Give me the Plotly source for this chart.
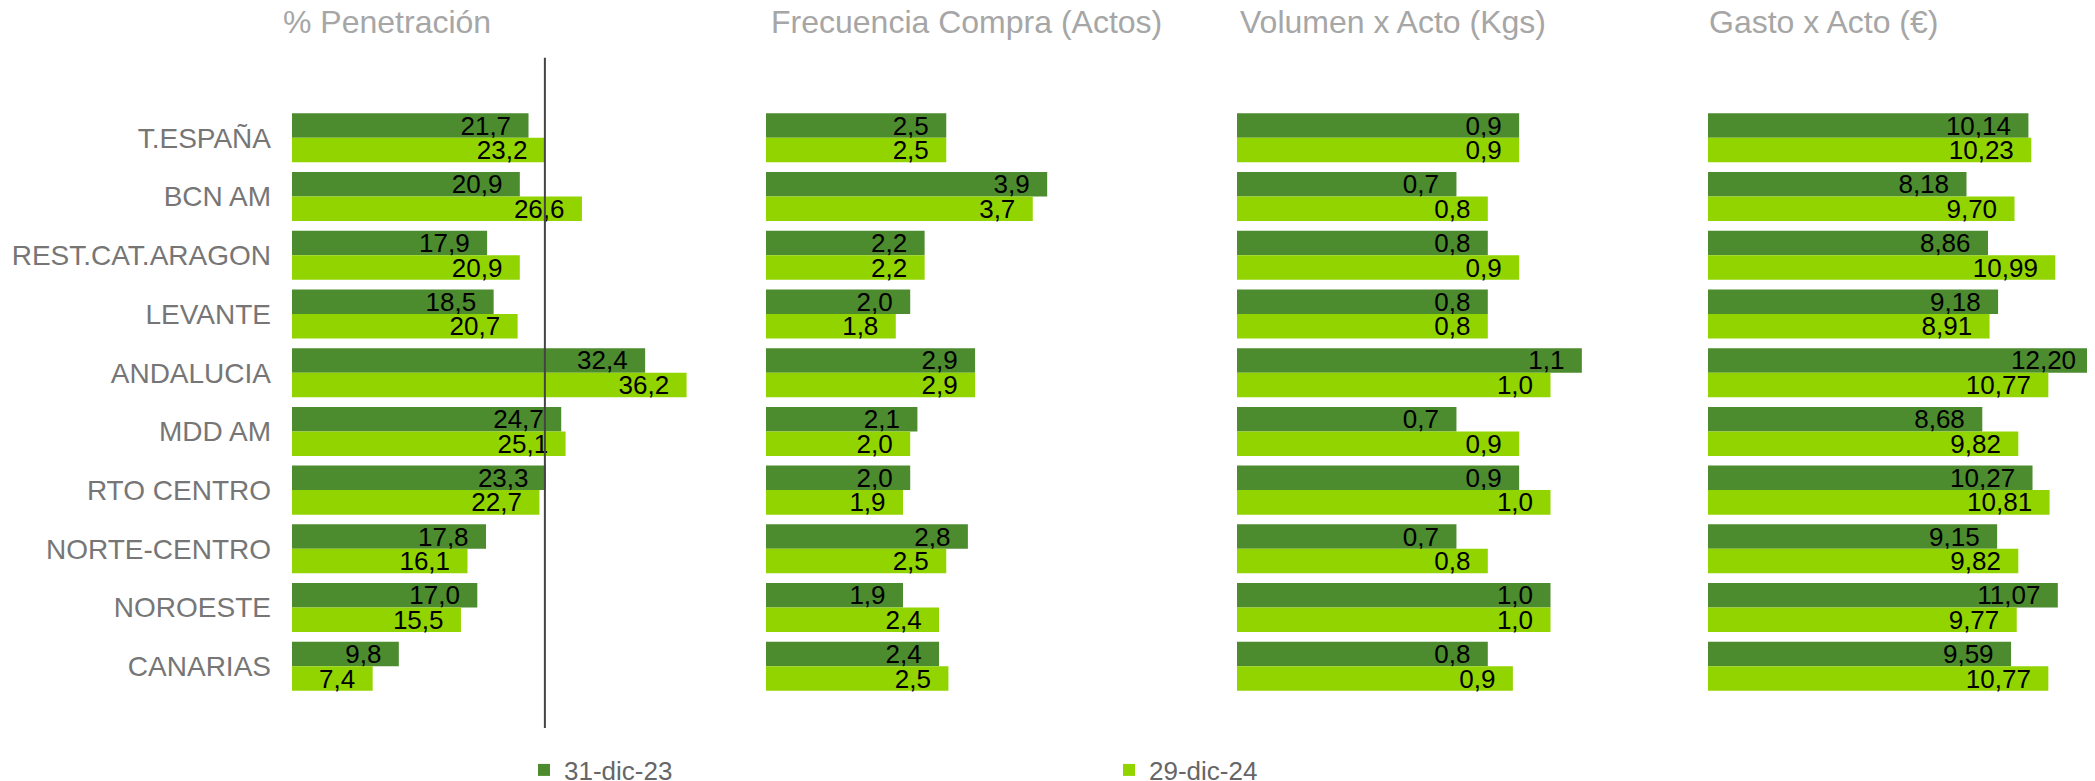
import plotly.graph_objects as go

# page (window) size and the 8px default body margin of the written html page
PAGE_W, PAGE_H = 2095, 781
OFF = 8
W, H = PAGE_W - OFF, PAGE_H - OFF

categories = ["T.ESPAÑA", "BCN AM", "REST.CAT.ARAGON", "LEVANTE", "ANDALUCIA",
              "MDD AM", "RTO CENTRO", "NORTE-CENTRO", "NOROESTE", "CANARIAS"]
series_names = ["31-dic-23", "29-dic-24"]
panel_titles = ["% Penetración", "Frecuencia Compra (Actos)", "Volumen x Acto (Kgs)", "Gasto x Acto (€)"]

pen_2023 = [21.7, 20.9, 17.9, 18.5, 32.4, 24.7, 23.3, 17.8, 17.0, 9.8]
pen_2024 = [23.2, 26.6, 20.9, 20.7, 36.2, 25.1, 22.7, 16.1, 15.5, 7.4]
freq_2023 = [2.5, 3.9, 2.2, 2.0, 2.9, 2.1, 2.0, 2.8, 1.9, 2.4]
freq_2024 = [2.5, 3.7, 2.2, 1.8, 2.9, 2.0, 1.9, 2.5, 2.4, 2.53]
vol_2023 = [0.9, 0.7, 0.8, 0.8, 1.1, 0.7, 0.9, 0.7, 1.0, 0.8]
vol_2024 = [0.9, 0.8, 0.9, 0.8, 1.0, 0.9, 1.0, 0.8, 1.0, 0.88]
gasto_2023 = [10.14, 8.18, 8.86, 9.18, 12.20, 8.68, 10.27, 9.15, 11.07, 9.59]
gasto_2024 = [10.23, 9.70, 10.99, 8.91, 10.77, 9.82, 10.81, 9.82, 9.77, 10.77]

COL_DARK = "#4C8B2E"
COL_LIGHT = "#92D400"
FONT = "Liberation Sans, Arial, sans-serif"


def fx(px):
    return (px - OFF) / W


def fy(py):
    return (H - (py - OFF)) / H


# panel geometry (page pixels)
panel_start = [292, 766, 1237, 1708]
panel_width = [400, 400, 400, 387]
px_per_unit = [10.9, 72.1, 313.5, 31.6]
fmt = [".1f", ".1f", ".1f", ".2f"]
title_left = [281, 769, 1238, 1707]

data = [(pen_2023, pen_2024), (freq_2023, freq_2024), (vol_2023, vol_2024), (gasto_2023, gasto_2024)]

plot_top, plot_bottom = 108.5, 695.6
ydom = [fy(plot_bottom), fy(plot_top)]

fig = go.Figure()
for i, (s23, s24) in enumerate(data):
    ax = "" if i == 0 else str(i + 1)
    for j, (vals, col) in enumerate([(s23, COL_DARK), (s24, COL_LIGHT)]):
        fig.add_trace(go.Bar(
            y=categories, x=vals, orientation="h",
            name=series_names[j], legendgroup=series_names[j], showlegend=(i == 0),
            marker=dict(color=col, line=dict(width=0)),
            texttemplate="%{x:" + fmt[i] + "}\u00a0\u00a0",
            textposition="inside", insidetextanchor="end",
            textangle=0, constraintext="none", cliponaxis=False,
            insidetextfont=dict(family=FONT, size=26, color="black"),
            xaxis="x" + ax, yaxis="y" + ax, hoverinfo="skip",
        ))
    x0 = fx(panel_start[i])
    x1 = min(1.0, fx(panel_start[i] + panel_width[i]))
    width_px = (x1 - x0) * W
    fig.layout["xaxis" + ax] = dict(
        domain=[x0, x1], range=[0, width_px / px_per_unit[i]],
        visible=False, anchor="y" + ax, fixedrange=True)
    fig.layout["yaxis" + ax] = dict(
        domain=ydom, type="category", categoryorder="array", categoryarray=categories,
        range=[len(categories) - 0.5, -0.5], anchor="x" + ax,
        showgrid=False, zeroline=False, showline=False, ticks="",
        showticklabels=(i == 0), ticklabelstandoff=20,
        tickfont=dict(family=FONT, size=28, color="#767676"), fixedrange=True)
    fig.add_annotation(
        text=panel_titles[i], xref="paper", yref="paper",
        x=fx(title_left[i]), y=fy(22), xanchor="left", yanchor="middle",
        showarrow=False, font=dict(family=FONT, size=32, color="#A6A6A6"))

# reference line at T.ESPAÑA 2024 penetration
fig.add_shape(type="line", xref="x", yref="paper",
              x0=pen_2024[0], x1=pen_2024[0],
              y0=fy(728), y1=fy(57.7),
              line=dict(color="#444444", width=2), layer="above")

fig.update_layout(
    width=W, height=H,
    margin=dict(l=0, r=0, t=0, b=0, autoexpand=False),
    paper_bgcolor="white", plot_bgcolor="white",
    barmode="group", bargap=0.165, bargroupgap=0,
    separators=",.",
    font=dict(family=FONT),
    legend=dict(orientation="h", x=fx(524), y=fy(770), xanchor="left", yanchor="middle",
                entrywidth=540, entrywidthmode="pixels",
                font=dict(family=FONT, size=26, color="#666666"),
                bgcolor="rgba(0,0,0,0)", borderwidth=0),
    showlegend=True,
)

fig.write_html("out.html")
